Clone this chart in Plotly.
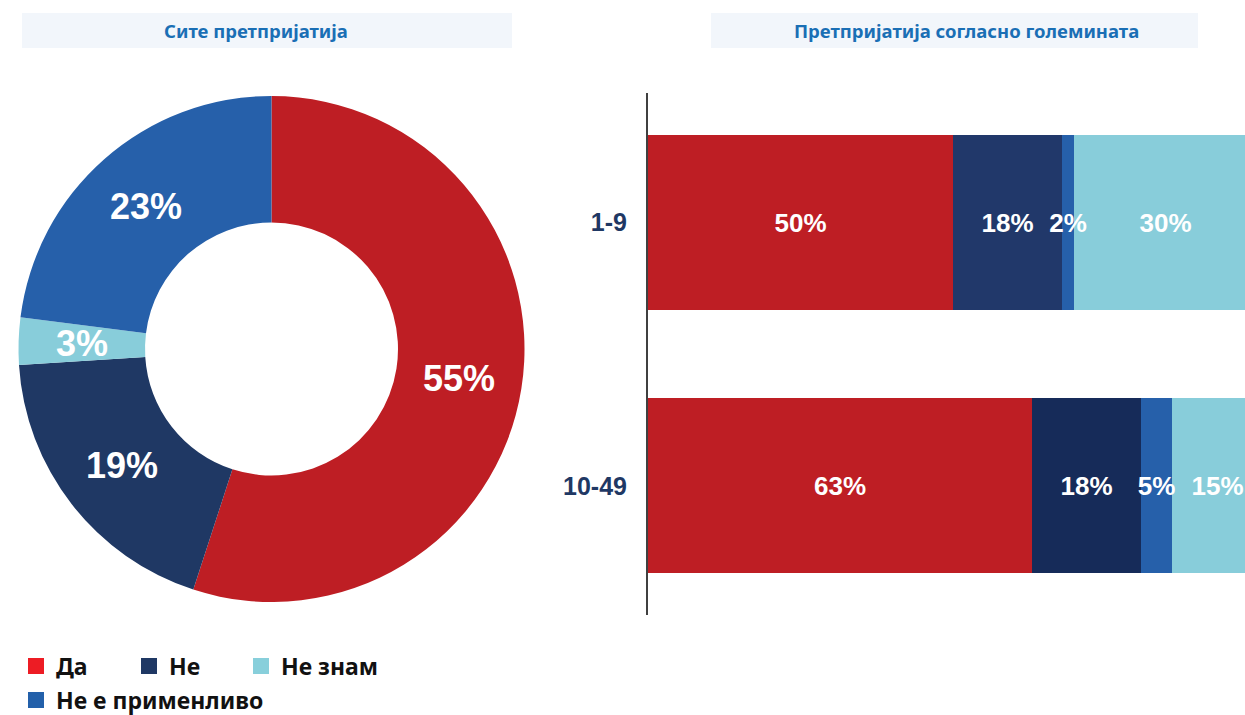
import math
import plotly.graph_objects as go

W, H = 1245, 715

# ---- data ----
pie_labels = ["Да", "Не", "Не знам", "Не е применливо"]
pie_values = [55, 19, 3, 23]
pie_colors = ["#BE1E24", "#1F3864", "#88CDDA", "#2660AA"]

size_cats = ["1-9", "10-49"]
series_names = ["Да", "Не", "Не е применливо", "Не знам"]   # left-to-right stacking order
series_values = {
    "Да": [50, 63],
    "Не": [18, 18],
    "Не е применливо": [2, 5],
    "Не знам": [30, 15],
}
series_colors = {
    "Да": ["#BE1E24", "#BE1E24"],
    "Не": ["#21386A", "#162B59"],
    "Не е применливо": ["#2660AA", "#2660AA"],
    "Не знам": ["#88CDDA", "#88CDDA"],
}
draw_order = ["Да", "Не", "Не знам", "Не е применливо"]    # small segment drawn last so its label stays on top

legend_items = ["Да", "Не", "Не знам", "Не е применливо"]
legend_colors = {"Да": "#ED1C24", "Не": "#1F3864", "Не знам": "#88CFDB", "Не е применливо": "#2360AA"}

title_left = "Сите претпријатија"
title_right = "Претпријатија согласно големината"


def px(x):
    return x / W


def py(y):
    return 1 - y / H


# pie geometry (pixels)
PIE_L, PIE_R, PIE_T, PIE_B = 16, 527, 96, 602
pie_domain = dict(x=[px(PIE_L), px(PIE_R)], y=[py(PIE_B), py(PIE_T)])
pcx, pcy = (PIE_L + PIE_R) / 2, (PIE_T + PIE_B) / 2
prad = min(PIE_R - PIE_L, PIE_B - PIE_T) / 2

fig = go.Figure()

fig.add_trace(go.Pie(
    labels=pie_labels, values=pie_values, sort=False, direction="clockwise", rotation=0,
    hole=0.5, marker=dict(colors=pie_colors, line=dict(width=0)),
    textinfo="none", domain=pie_domain,
    showlegend=False, hoverinfo="label+percent",
))

# slice labels at each slice's mid-angle on the ring
total = sum(pie_values)
annotations = []
acc = 0
for v in pie_values:
    a = math.radians((acc + v / 2) / total * 360)
    acc += v
    rr = 0.75 * prad
    annotations.append(dict(
        text=f"{v}%", xref="paper", yref="paper",
        x=px(pcx + rr * math.sin(a)), y=py(pcy - rr * math.cos(a)),
        showarrow=False, xanchor="center", yanchor="middle",
        font=dict(family="Liberation Sans, Arial", size=36, color="white", weight="bold"),
    ))

# stacked bars with explicit bases (so drawing order can differ from stacking order)
bases = {}
running = [0] * len(size_cats)
for name in series_names:
    bases[name] = list(running)
    running = [r + v for r, v in zip(running, series_values[name])]

for name in draw_order:
    fig.add_trace(go.Bar(
        y=size_cats, x=series_values[name], base=bases[name], orientation="h", name=name,
        marker=dict(color=series_colors[name], line=dict(width=0)),
        texttemplate="%{x}%", textposition="inside", insidetextanchor="middle",
        constraintext="none", textangle=0,
        textfont=dict(family="Liberation Sans, Arial", size=26, color="white", weight="bold"),
        width=0.665, showlegend=False, xaxis="x", yaxis="y",
    ))

legend_font = dict(family="Noto Sans, Open Sans, sans-serif", size=23, color="#111111", weight="bold")
# legend item positions (marker centre x, row centre y), one legend box per item
legend_pos = {"Да": (37, 666), "Не": (150, 666), "Не знам": (262, 666), "Не е применливо": (37, 700)}

legend_layouts = {}
for i, name in enumerate(legend_items):
    key = "legend" if i == 0 else f"legend{i + 1}"
    fig.add_trace(go.Scatter(x=[None], y=[None], mode="markers", name=name,
                             marker=dict(symbol="square", size=20, color=legend_colors[name]),
                             legend=key, xaxis="x", yaxis="y"))
    mx, my = legend_pos[name]
    legend_layouts[key] = dict(orientation="h", x=px(mx - 21), y=py(my), xanchor="left", yanchor="middle",
                               font=legend_font, itemwidth=30, bgcolor="rgba(0,0,0,0)")

title_font = dict(family="Noto Sans, Open Sans, sans-serif", size=18.5, color="#1A6FB5", weight="bold")
annotations += [
    dict(text=title_left, xref="paper", yref="paper", x=px(256), y=py(30.5),
         showarrow=False, xanchor="center", yanchor="middle", font=title_font),
    dict(text=title_right, xref="paper", yref="paper", x=px(966), y=py(30.5),
         showarrow=False, xanchor="center", yanchor="middle", font=title_font),
]

fig.update_layout(
    width=W, height=H, margin=dict(l=0, r=0, t=0, b=0, autoexpand=False),
    paper_bgcolor="white", plot_bgcolor="white",
    barmode="overlay", bargap=0,
    xaxis=dict(domain=[px(648), 1], range=[0, 98], visible=False, fixedrange=True),
    yaxis=dict(domain=[py(615), py(93)], type="category", range=[1.49, -0.49],
               showline=True, linecolor="#404040", linewidth=2, ticks="",
               showgrid=False, ticklabelstandoff=14,
               tickfont=dict(family="Liberation Sans, Arial", size=25, color="#1F3864", weight="bold")),
    shapes=[
        dict(type="rect", xref="paper", yref="paper", x0=px(22), x1=px(512), y0=py(48), y1=py(13),
             fillcolor="#F2F6FB", line=dict(width=0), layer="below"),
        dict(type="rect", xref="paper", yref="paper", x0=px(711), x1=px(1198), y0=py(48), y1=py(13),
             fillcolor="#F2F6FB", line=dict(width=0), layer="below"),
    ],
    annotations=annotations,
    **legend_layouts,
)

fig.write_html("out.html", config={"displayModeBar": False},
               post_script="document.body.style.margin='0';")
